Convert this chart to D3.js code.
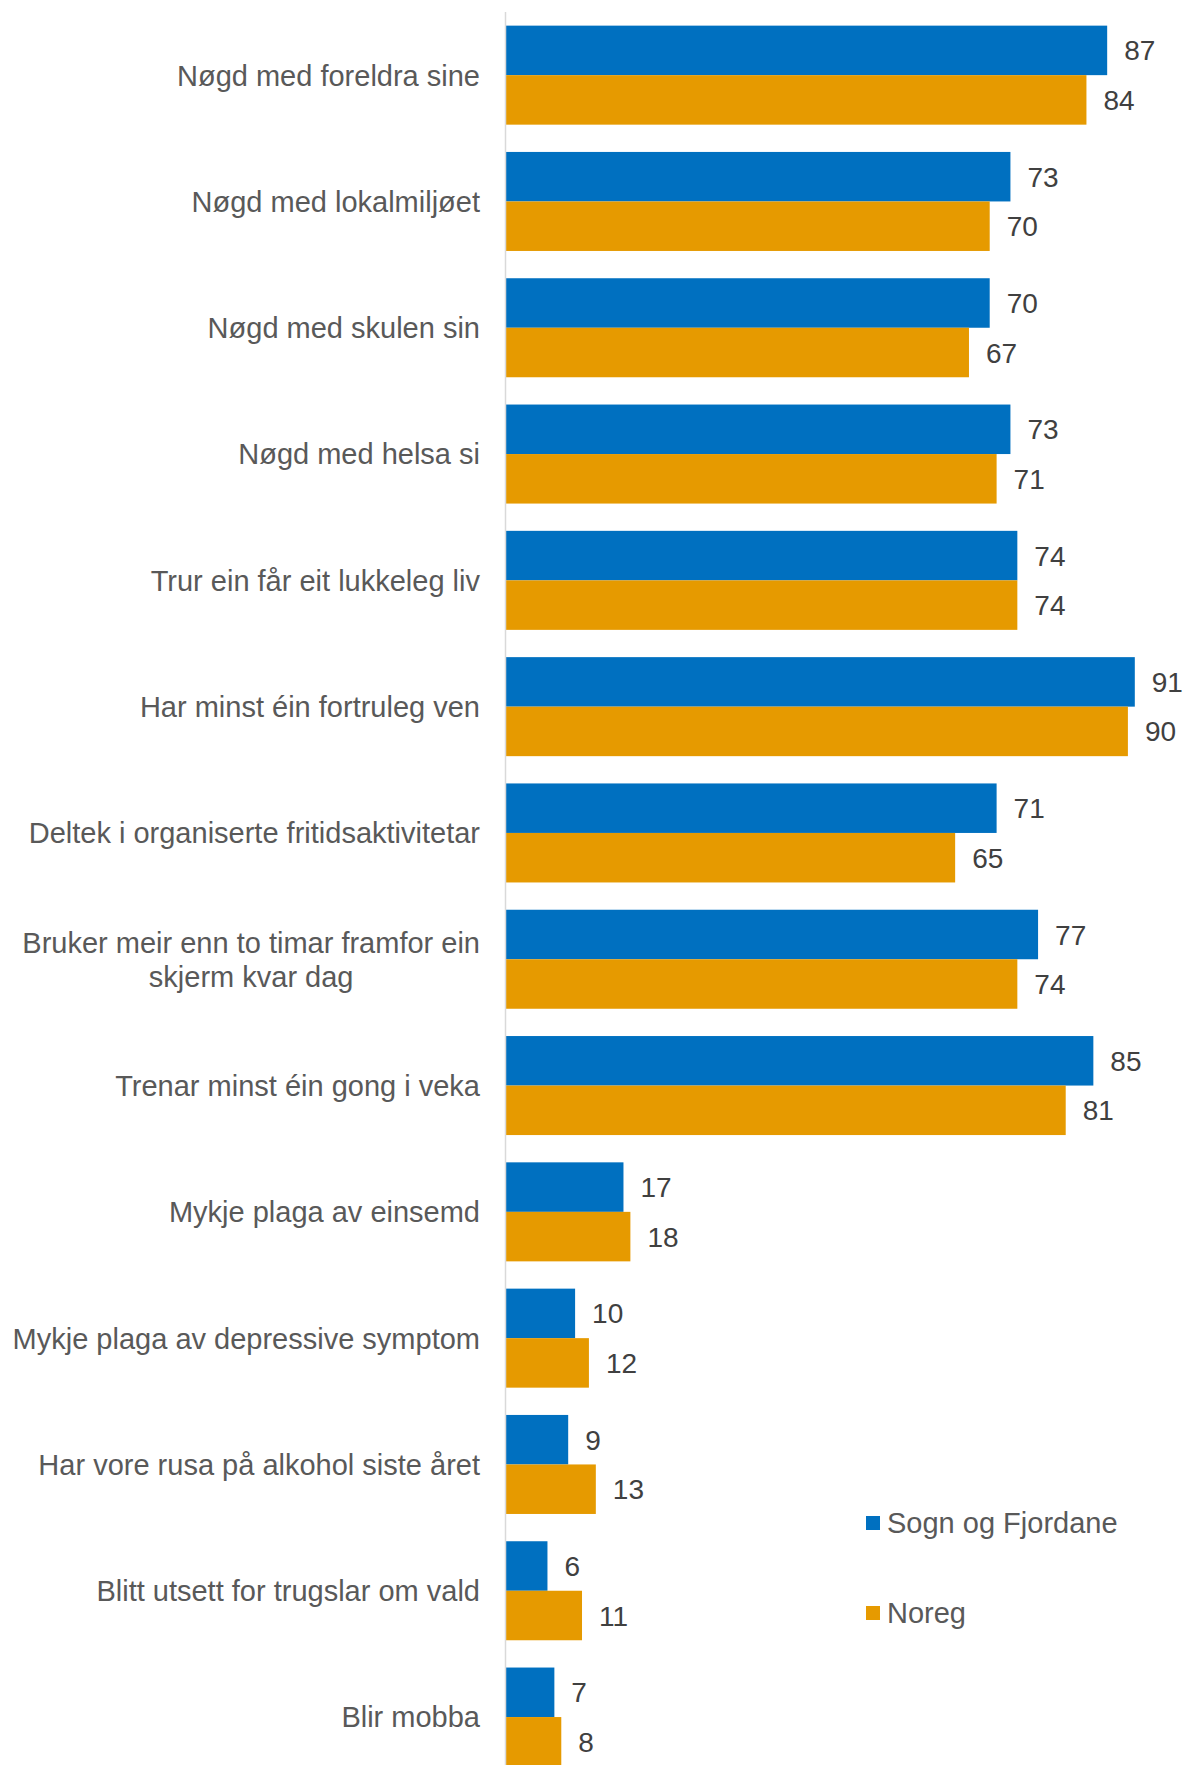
<!DOCTYPE html>
<meta charset="utf-8">
<script src="https://d3js.org/d3.v7.min.js"></script>
<body style="margin:0;background:#fff">
<svg width="1183" height="1765"></svg>
<script>
    // categories top to bottom
    var categories = [
        "Nøgd med foreldra sine",
        "Nøgd med lokalmiljøet",
        "Nøgd med skulen sin",
        "Nøgd med helsa si",
        "Trur ein får eit lukkeleg liv",
        "Har minst éin fortruleg ven",
        "Deltek i organiserte fritidsaktivitetar",
        "Bruker meir enn to timar framfor ein|skjerm kvar dag",
        "Trenar minst éin gong i veka",
        "Mykje plaga av einsemd",
        "Mykje plaga av depressive symptom",
        "Har vore rusa på alkohol siste året",
        "Blitt utsett for trugslar om vald",
        "Blir mobba"
    ];
    var sognFjordane = [87, 73, 70, 73, 74, 91, 71, 77, 85, 17, 10, 9, 6, 7];
    var noreg        = [84, 70, 67, 71, 74, 90, 65, 74, 81, 18, 12, 13, 11, 8];
    var seriesNames  = ["Sogn og Fjordane", "Noreg"];
    var seriesColors = ["#0070c0", "#e69a00"];

    var svg = d3.select('svg');
    var plotLeft = 506, plotTop = 12, bandH = 126.3;

    var x = d3.scaleLinear().domain([0, 100]).range([plotLeft, plotLeft + 691]);
    var y = d3.scaleBand().domain(categories)
        .range([plotTop, plotTop + bandH * categories.length])
        .paddingInner(0.216).paddingOuter(0.108);
    var ySub = d3.scaleBand().domain(seriesNames).range([0, y.bandwidth()]);

    var rows = categories.map(function(c, i){
        return { cat: c, vals: [sognFjordane[i], noreg[i]] };
    });

    /* ----------- BARS ----------- */
    var g = svg.selectAll('g.row').data(rows).enter()
        .append('g').attr('class', 'row')
        .attr('transform', function(d){ return 'translate(0,' + y(d.cat) + ')'; });

    var bars = g.selectAll('g.bar')
        .data(function(d){ return d.vals.map(function(v, k){ return { v: v, s: seriesNames[k], k: k }; }); })
        .enter().append('g').attr('class', 'bar');

    bars.append('rect')
        .attr('x', x(0))
        .attr('y', function(d){ return ySub(d.s); })
        .attr('width', function(d){ return x(d.v) - x(0); })
        .attr('height', ySub.bandwidth())
        .attr('fill', function(d){ return seriesColors[d.k]; });

    bars.append('text')
        .attr('x', function(d){ return x(d.v) + 17; })
        .attr('y', function(d){ return ySub(d.s) + ySub.bandwidth() / 2; })
        .attr('dy', '0.36em')
        .attr('font-family', 'Liberation Sans, Arial, sans-serif')
        .attr('font-size', 28)
        .attr('fill', '#404040')
        .text(function(d){ return d.v; });

    /* ----------- axis line ----------- */
    svg.append('line')
        .attr('x1', x(0) - 0.5).attr('x2', x(0) - 0.5)
        .attr('y1', plotTop).attr('y2', 1765)
        .attr('stroke', '#d9d9d9').attr('stroke-width', 1.5);

    /* ----------- category labels ----------- */
    g.each(function(d){
        var lines = d.cat.split('|');
        var t = d3.select(this).append('text')
            .attr('font-family', 'Liberation Sans, Arial, sans-serif')
            .attr('font-size', 29)
            .attr('fill', '#595959');
        var cy = y.bandwidth() / 2;
        if (lines.length === 1) {
            t.attr('x', x(0) - 26).attr('y', cy).attr('dy', '0.36em')
             .attr('text-anchor', 'end').text(lines[0]);
        } else {
            // centred block, right aligned against the axis
            t.attr('text-anchor', 'middle');
            var spans = t.selectAll('tspan').data(lines).enter().append('tspan')
                .attr('x', 0)
                .attr('y', function(l, i){ return cy + (i - 0.5) * 34; })
                .attr('dy', '0.36em')
                .text(function(l){ return l; });
            var w = d3.max(spans.nodes(), function(n){ return n.getComputedTextLength(); });
            spans.attr('x', x(0) - 26 - w / 2);
        }
    });

    /* ----------- legend ----------- */
    var legend = svg.selectAll('g.legend').data(seriesNames).enter()
        .append('g').attr('class', 'legend')
        .attr('transform', function(d, i){ return 'translate(866,' + (1523 + i * 90) + ')'; });
    legend.append('rect')
        .attr('x', 0).attr('y', -7).attr('width', 14).attr('height', 14)
        .attr('fill', function(d, i){ return seriesColors[i]; });
    legend.append('text')
        .attr('x', 21).attr('y', 0).attr('dy', '0.36em')
        .attr('font-family', 'Liberation Sans, Arial, sans-serif')
        .attr('font-size', 29)
        .attr('fill', '#595959')
        .text(function(d){ return d; });
</script>
</body>
